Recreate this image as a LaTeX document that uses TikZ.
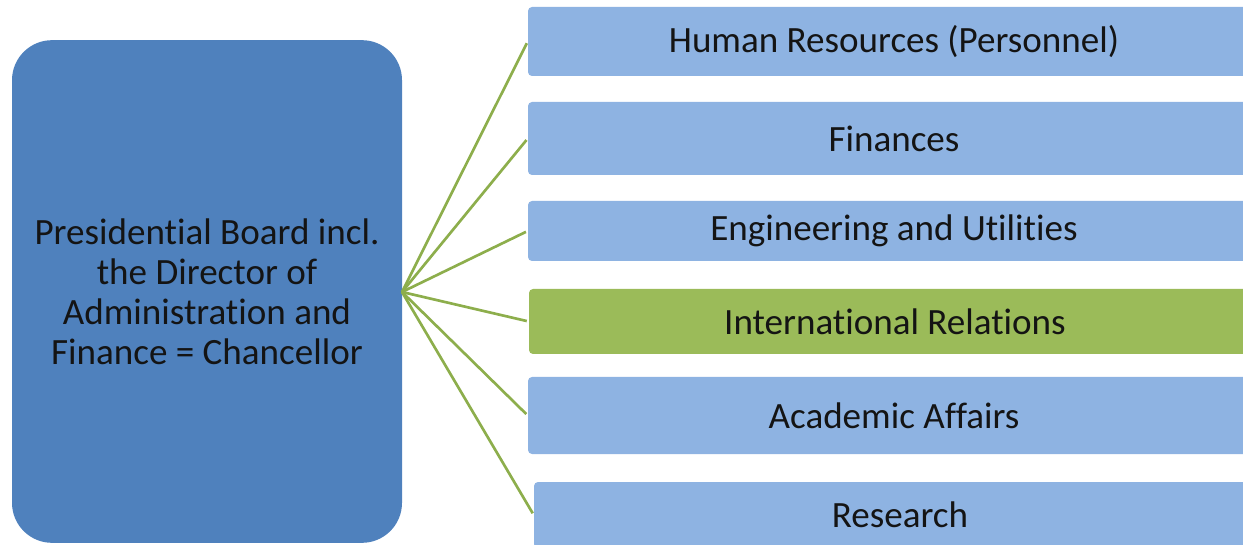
\documentclass[tikz,border=0pt]{standalone}
\usepackage{fontspec}
\setmainfont{Carlito}[Ligatures={NoCommon}]
\definecolor{darkblue}{HTML}{4F81BD}
\definecolor{lightblue}{HTML}{8EB3E2}
\definecolor{leafgreen}{HTML}{9BBB59}
\definecolor{linegreen}{HTML}{8DAE4C}
\definecolor{txt}{HTML}{141414}
\tikzset{
  unitbox/.style={rectangle, rounded corners=3pt, fill=lightblue, draw=none,
    minimum width=549pt, text=txt, font=\fontsize{27.8}{30}\selectfont, inner sep=0pt},
  greenbox/.style={unitbox, fill=leafgreen},
  presbox/.style={rectangle, rounded corners=30pt, fill=darkblue, draw=none,
    minimum width=292.5pt, minimum height=377pt, align=center,
    text=txt, font=\fontsize{27.8}{30}\selectfont, inner sep=0pt},
  link/.style={draw=linegreen, line width=2pt, shorten >=1.5pt}
}
\begin{document}
\begin{tikzpicture}[x=0.75pt,y=-0.75pt]
\useasboundingbox (0,0) rectangle (1243,545);
\clip (0,0) rectangle (1243,545);
\node[presbox] (pres) at (207,291.5) {Presidential Board incl.\\the Director of\\Administration and\\Finance = Chancellor};
\node[unitbox, minimum height=51.75pt] (hr) at (894,41.5) {Human Resources (Personnel)};
\node[unitbox, minimum height=54.75pt] (fin) at (894,138.5) {Finances};
\node[unitbox, minimum height=45pt] (eng) at (894,231) {Engineering and Utilities};
\node[greenbox, minimum height=48.75pt] (intl) at (895,321.5) {International Relations};
\node[unitbox, minimum height=57.75pt] (acad) at (894,415.5) {Academic Affairs};
\node[unitbox, minimum height=49.5pt] (res) at (900,515) {Research};
\coordinate (hub) at (402,292);
\foreach \t in {hr,fin,eng,intl,acad,res}
  \draw[link] (hub) -- (\t.west);
\end{tikzpicture}
\end{document}
